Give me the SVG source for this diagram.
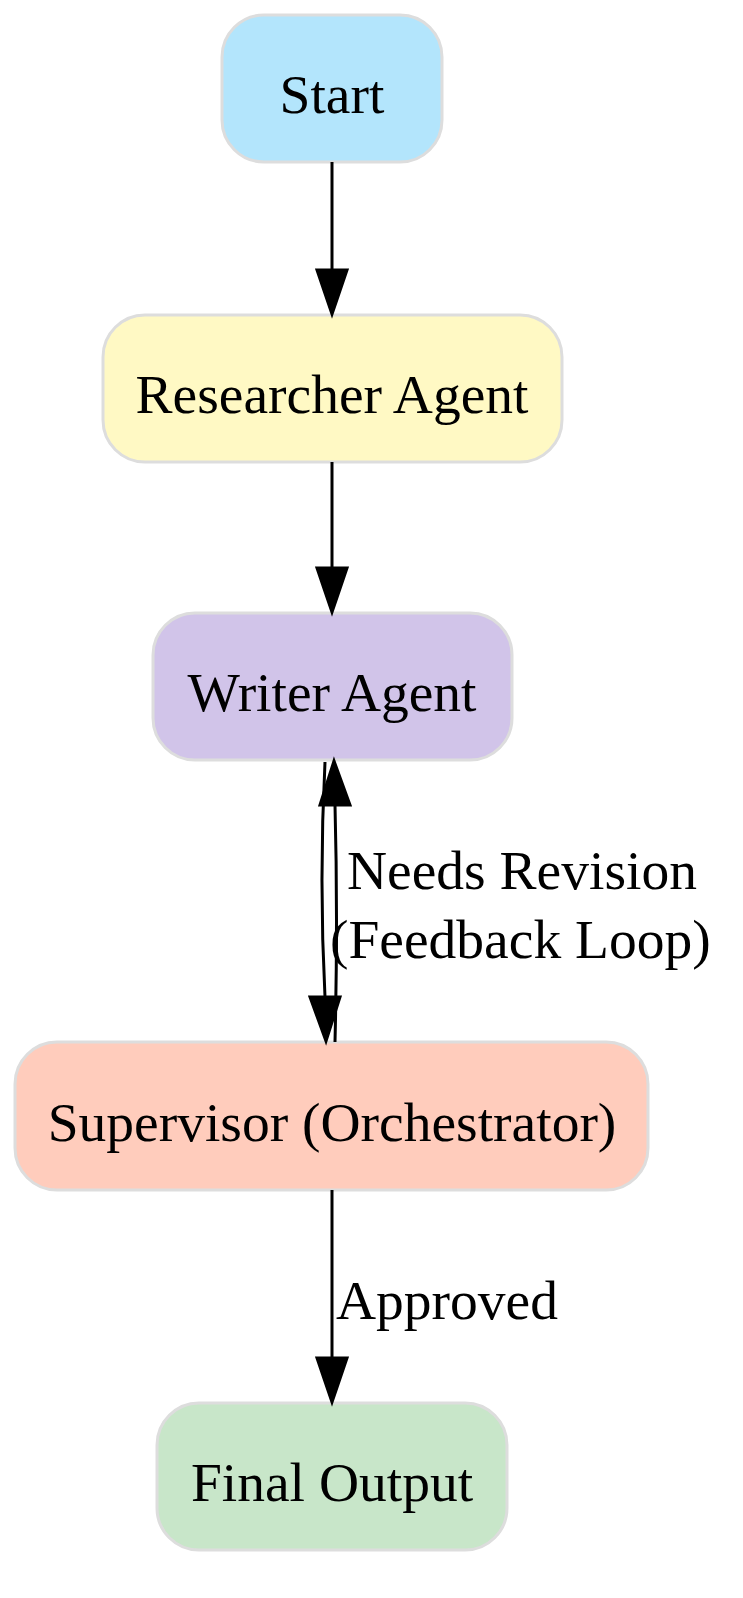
<svg xmlns="http://www.w3.org/2000/svg" width="743" height="1598" viewBox="0 0 743 1598">
<style>
.n{stroke:#dddddd;stroke-width:3}
.t{font-family:"Liberation Serif",serif;font-size:55.5px;fill:#000;text-anchor:middle}
.l{font-family:"Liberation Serif",serif;font-size:55.5px;fill:#000}
.e{fill:none;stroke:#000;stroke-width:3}
.h{fill:#000;stroke:#000;stroke-width:3}
</style>
<rect width="743" height="1598" fill="#fff"/>
<g id="start"><rect class="n" x="222" y="15" width="220" height="147" rx="42" fill="#b3e5fc"/><text class="t" x="332" y="113">Start</text></g>
<g id="researcher"><rect class="n" x="103" y="315" width="459" height="147" rx="42" fill="#fff9c4"/><text class="t" x="332" y="413">Researcher Agent</text></g>
<g id="writer"><rect class="n" x="153" y="613" width="359" height="147" rx="42" fill="#d1c4e9"/><text class="t" x="332" y="711">Writer Agent</text></g>
<g id="supervisor"><rect class="n" x="15" y="1042" width="633" height="148" rx="42" fill="#ffccbc"/><text class="t" x="332" y="1141">Supervisor (Orchestrator)</text></g>
<g id="final"><rect class="n" x="157" y="1403" width="350" height="147" rx="42" fill="#c8e6c9"/><text class="t" x="332" y="1501">Final Output</text></g>
<g id="edges">
<path class="e" d="M332,162 V270"/><polygon class="h" points="317,270 347,270 332,314"/>
<path class="e" d="M332,462 V568"/><polygon class="h" points="317,568 347,568 332,612"/>
<path class="e" d="M325,762 C321,840 321,920 325,997"/><polygon class="h" points="310,997 340,997 326,1041"/>
<path class="e" d="M335,1042 C337,960 337,880 335,805"/><polygon class="h" points="320,805 350,805 334,761"/>
<path class="e" d="M332,1190 V1358"/><polygon class="h" points="317,1358 347,1358 332,1402"/>
<text class="l" x="347" y="889">Needs Revision</text>
<text class="l" x="330" y="958">(Feedback Loop)</text>
<text class="l" x="336" y="1319">Approved</text>
</g>
</svg>
